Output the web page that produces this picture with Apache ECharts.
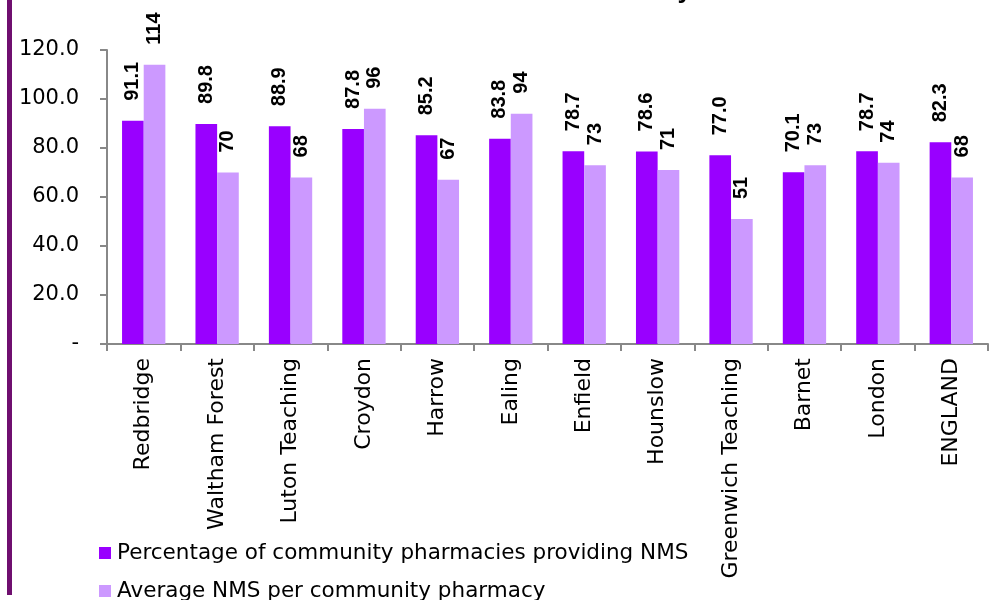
<!DOCTYPE html>
<html>
<head>
<meta charset="utf-8">
<script src="https://cdn.jsdelivr.net/npm/echarts@6/dist/echarts.min.js"></script>
<style>
  html, body { margin: 0; padding: 0; background: #fff; }
  #chart { width: 991px; height: 600px; }
</style>
</head>
<body>
<div id="chart"></div>
<script>
// Areas compared
const categories = ['Redbridge', 'Waltham Forest', 'Luton Teaching', 'Croydon', 'Harrow', 'Ealing',
  'Enfield', 'Hounslow', 'Greenwich Teaching', 'Barnet', 'London', 'ENGLAND'];

// Percentage of community pharmacies providing NMS
const pctProviding = [91.1, 89.8, 88.9, 87.8, 85.2, 83.8, 78.7, 78.6, 77.0, 70.1, 78.7, 82.3];

// Average NMS per community pharmacy
const avgPerPharmacy = [114, 70, 68, 96, 67, 94, 73, 71, 51, 73, 74, 68];

const seriesNames = ['Percentage of community pharmacies providing NMS', 'Average NMS per community pharmacy'];

// Value axis ticks
const yMin = 0, yMax = 120, yStep = 20;

const FONT = '"Liberation Sans", Arial, sans-serif';
const WIDE = '"DejaVu Sans", sans-serif';
const chart = echarts.init(document.getElementById('chart'), null, { renderer: 'canvas' });

const labelCommon = {
  show: true,
  position: 'top',
  distance: 18,
  rotate: 90,
  align: 'left',
  verticalAlign: 'middle',
  offset: [2, 0],
  fontFamily: FONT,
  fontWeight: 'bold',
  fontSize: 20,
  color: '#000'
};

const legendBase = {
  orient: 'vertical',
  left: 94,
  itemWidth: 12,
  itemHeight: 12,
  icon: 'rect',
  textStyle: { fontSize: 21.5, color: '#000', fontFamily: WIDE, padding: [0, 0, 0, 1] }
};

chart.setOption({
  animation: false,
  backgroundColor: '#fff',
  textStyle: { fontFamily: FONT },
  graphic: [
    {
      type: 'rect',
      shape: { x: 7, y: 0, width: 5, height: 595 },
      style: { fill: '#6f0f6f' },
      z: 10
    },
    {
      type: 'text',
      right: 991 - 692,
      top: -22,
      style: {
        text: 'NMS Activity',
        font: 'bold 26px ' + FONT,
        fill: '#000'
      }
    }
  ],
  grid: { left: 107, right: 3, top: 50, bottom: 256, containLabel: false },
  legend: [
    Object.assign({}, legendBase, { top: 537, data: [seriesNames[0]] }),
    Object.assign({}, legendBase, { top: 575, data: [seriesNames[1]] })
  ],
  xAxis: {
    type: 'category',
    data: categories,
    axisLine: { lineStyle: { color: '#888', width: 2 } },
    axisTick: { show: true, length: 7, lineStyle: { color: '#888', width: 2 } },
    axisLabel: { rotate: 90, margin: 14, fontSize: 22, color: '#000', fontFamily: WIDE, interval: 0 }
  },
  yAxis: {
    type: 'value',
    min: yMin,
    max: yMax,
    interval: yStep,
    axisLine: { show: true, lineStyle: { color: '#888', width: 2 } },
    axisTick: { show: true, length: 7, lineStyle: { color: '#888', width: 2 } },
    splitLine: { show: false },
    axisLabel: {
      margin: 28,
      fontSize: 21,
      color: '#000',
      fontFamily: WIDE,
      formatter: v => (v === 0 ? '-' : v.toFixed(1))
    }
  },
  series: [
    {
      name: seriesNames[0],
      type: 'bar',
      data: pctProviding,
      barGap: '0%',
      barCategoryGap: '41%',
      itemStyle: { color: '#9900ff' },
      label: Object.assign({}, labelCommon, { formatter: p => p.value.toFixed(1) })
    },
    {
      name: seriesNames[1],
      type: 'bar',
      data: avgPerPharmacy,
      itemStyle: { color: '#cc99ff' },
      label: Object.assign({}, labelCommon, { formatter: p => String(p.value) })
    }
  ]
});
</script>
</body>
</html>
